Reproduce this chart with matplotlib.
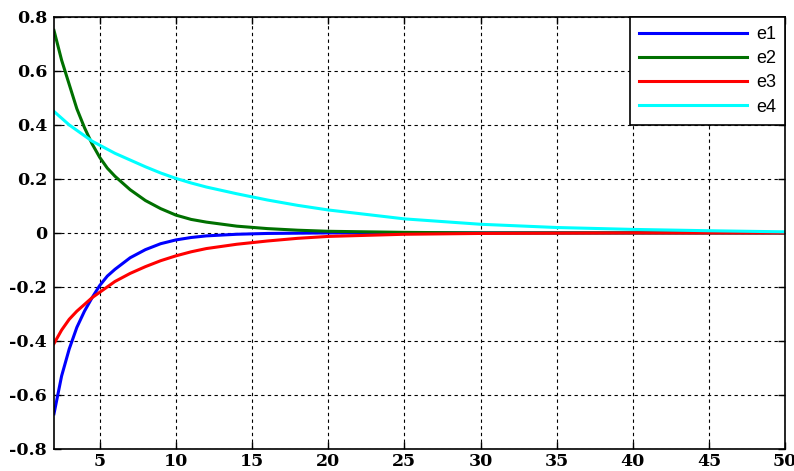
import numpy as np
import matplotlib
matplotlib.use('Agg')
import matplotlib.pyplot as plt

# values
t = [2, 2.5, 3, 3.5, 4, 4.5, 5, 5.5, 6, 7, 8, 9, 10, 11, 12, 14, 16, 18, 20,
     25, 30, 35, 40, 45, 50]
e1 = [-0.67, -0.53, -0.43, -0.35, -0.29, -0.24, -0.195, -0.16, -0.135, -0.092,
      -0.062, -0.04, -0.026, -0.017, -0.011, -0.005, -0.002, -0.001, 0.0,
      0.0, 0.0, 0.0, 0.0, 0.0, 0.0]
e2 = [0.75, 0.64, 0.55, 0.46, 0.39, 0.33, 0.28, 0.24, 0.21, 0.16,
      0.12, 0.09, 0.066, 0.05, 0.04, 0.025, 0.016, 0.01, 0.006,
      0.002, 0.0, 0.0, 0.0, 0.0, 0.0]
e3 = [-0.41, -0.36, -0.32, -0.29, -0.265, -0.24, -0.22, -0.2, -0.18, -0.15,
      -0.125, -0.103, -0.085, -0.07, -0.058, -0.042, -0.03, -0.02, -0.013,
      -0.005, -0.002, -0.001, 0.0, 0.0, 0.0]
e4 = [0.45, 0.425, 0.40, 0.38, 0.36, 0.34, 0.325, 0.31, 0.295, 0.27,
      0.245, 0.222, 0.202, 0.185, 0.17, 0.145, 0.122, 0.102, 0.085,
      0.052, 0.032, 0.02, 0.013, 0.008, 0.004]

series = [("e1", e1, "#0000ff"), ("e2", e2, "#007000"),
          ("e3", e3, "#ff0000"), ("e4", e4, "#00ffff")]

fig = plt.figure(figsize=(7.94, 4.71), dpi=100)
ax = fig.add_axes([0.068, 0.047, 0.921, 0.917])

for name, vals, col in series:
    ax.plot(t, vals, color=col, linewidth=2.2, label=name)

ax.set_xlim(2, 50)
ax.set_ylim(-0.8, 0.8)
ax.set_xticks([5, 10, 15, 20, 25, 30, 35, 40, 45, 50])
ax.set_yticks([-0.8, -0.6, -0.4, -0.2, 0, 0.2, 0.4, 0.6, 0.8])
ax.set_yticklabels(["-0.8", "-0.6", "-0.4", "-0.2", "0", "0.2", "0.4", "0.6", "0.8"])
ax.grid(True, color="black", linestyle=(0, (3, 3)), linewidth=0.8)
ax.tick_params(direction="in", length=5, width=1, top=True, right=True,
               labelsize=12.5)
ax.tick_params(axis="x", pad=3)
ax.tick_params(axis="y", pad=5)
for lab in ax.get_xticklabels() + ax.get_yticklabels():
    lab.set_fontfamily("DejaVu Serif")
    lab.set_fontweight("bold")
for sp in ax.spines.values():
    sp.set_linewidth(1.2)

leg = ax.legend(loc="upper right", fancybox=False, framealpha=1,
                edgecolor="black", handlelength=6.0, borderaxespad=0,
                prop={"family": "Liberation Sans", "size": 13},
                labelspacing=0.4, borderpad=0.5, handletextpad=0.5)
leg.get_frame().set_linewidth(1.2)

fig.savefig("out.png", dpi=100)
